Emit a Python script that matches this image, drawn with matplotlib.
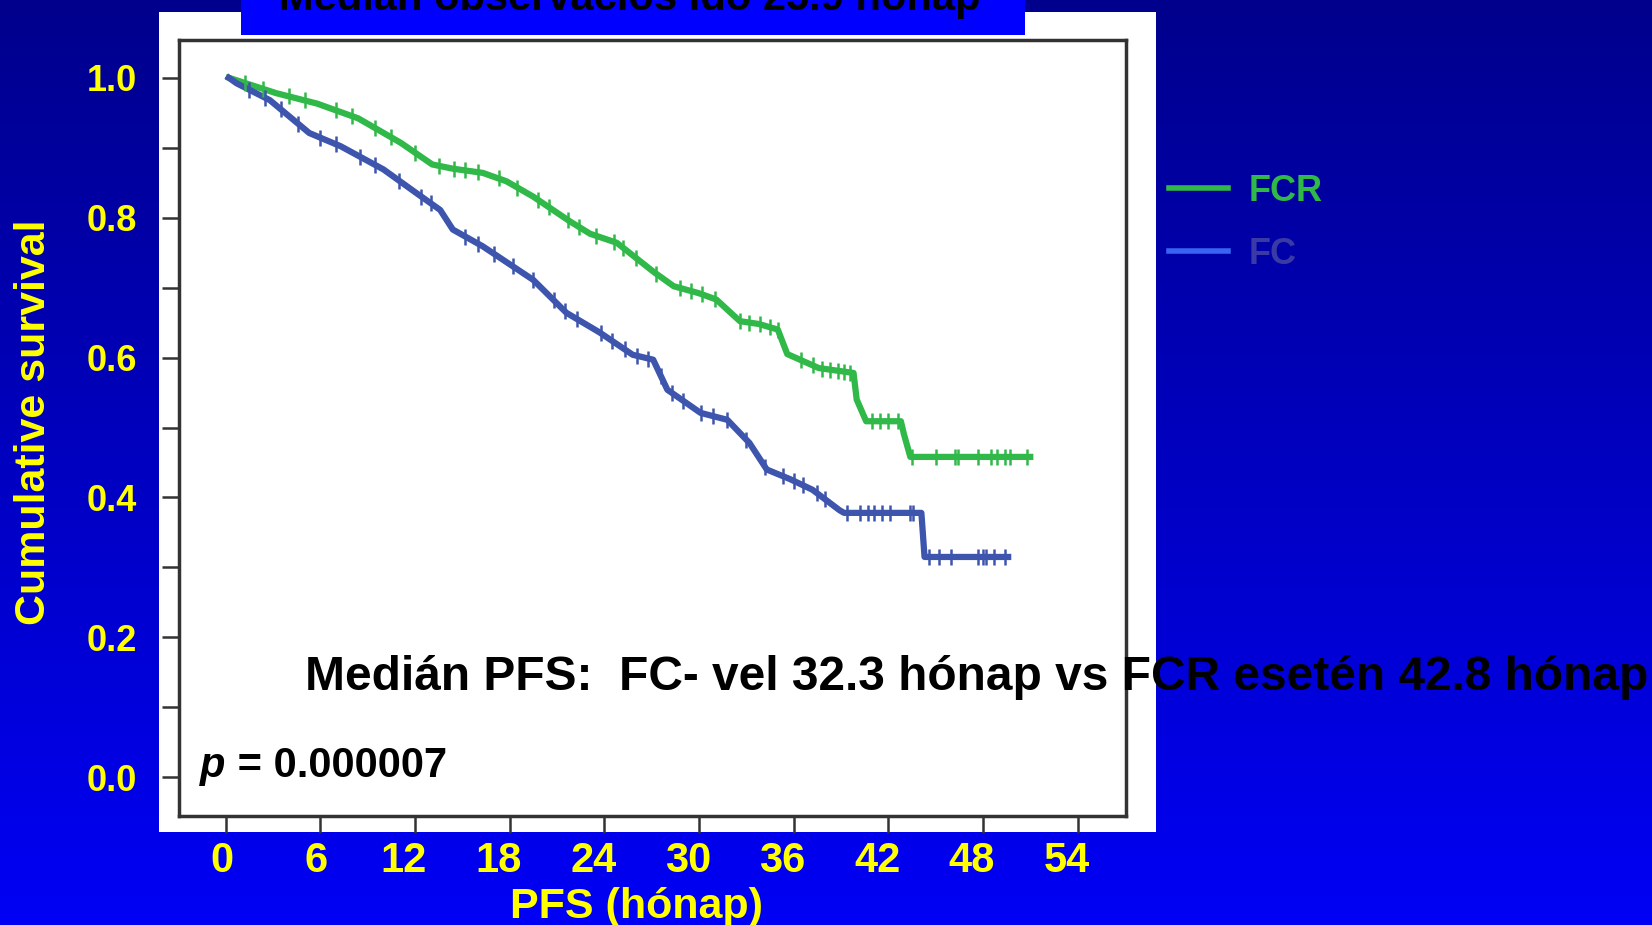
import numpy as np
import matplotlib
matplotlib.use('Agg')
import matplotlib.pyplot as plt
from matplotlib.patches import Rectangle
from matplotlib.lines import Line2D
from matplotlib.colors import LinearSegmentedColormap
from matplotlib.transforms import ScaledTranslation

plt.rcParams['font.family'] = ['Liberation Sans', 'DejaVu Sans']

# Kaplan-Meier curves (months, survival)
fcr_t = [0.2, 3.2, 5.8, 8.4, 11.1, 13.1, 14.4, 16.3, 17.8, 19.5, 21.8, 23.1, 24.8,
         27.1, 28.4, 30.0, 31.1, 32.6, 33.8, 35.0, 35.6, 37.6, 39.8, 40.0, 40.6, 42.8,
         43.0, 43.4, 51.0]
fcr_s = [1.0, 0.978, 0.963, 0.942, 0.907, 0.876, 0.870, 0.864, 0.852, 0.830, 0.795,
         0.777, 0.764, 0.723, 0.702, 0.692, 0.683, 0.652, 0.648, 0.640, 0.605, 0.585, 0.578,
         0.540, 0.509, 0.509, 0.490, 0.458, 0.458]
fc_t = [0.2, 0.7, 2.8, 5.3, 7.3, 10.0, 12.1, 13.6, 14.4, 16.3, 19.5, 21.6, 23.7, 25.8, 27.1,
        28.0, 30.1, 31.8, 33.2, 34.3, 35.8, 37.2, 38.9, 39.2, 44.1, 44.3, 49.6]
fc_s = [1.0, 0.992, 0.968, 0.921, 0.902, 0.869, 0.835, 0.811, 0.783, 0.759, 0.711, 0.664,
        0.636, 0.604, 0.597, 0.554, 0.521, 0.511, 0.478, 0.440, 0.426, 0.411, 0.382, 0.378,
        0.378, 0.315, 0.315]

# censored observations (months)
fcr_cens = [1.2, 2.4, 4.0, 5.0, 7.0, 8.0, 9.5, 10.5, 12.0, 13.5, 14.5, 15.2, 16.0, 17.3,
            18.5, 19.8, 20.5, 21.7, 22.4, 23.5, 24.6, 25.2, 26.0, 27.3, 28.8, 29.5, 30.2,
            31.0, 32.6, 33.2, 33.9, 34.5, 35.0, 36.5, 37.2, 37.8, 38.3, 38.8, 39.2, 39.6,
            41.0, 41.5, 42.0, 42.6, 43.5, 45.0, 46.2, 46.4, 47.7, 48.5, 48.9, 49.4, 49.7, 50.8]
fc_cens = [1.5, 2.5, 3.5, 4.6, 6.0, 7.0, 8.5, 9.5, 11.0, 12.4, 13.0, 15.2, 16.0, 17.0,
           18.2, 19.5, 20.8, 21.5, 22.3, 23.8, 24.5, 25.3, 26.1, 26.8, 27.6, 28.3, 29.0,
           30.1, 30.9, 31.8, 33.0, 34.2, 35.3, 36.0, 36.6, 37.5, 38.0, 39.4, 40.2, 40.7,
           41.1, 41.6, 42.1, 43.4, 43.6, 44.6, 45.2, 46.0, 47.7, 48.0, 48.2, 48.7, 49.4]

xticks = list(range(0, 55, 6))
yticks = [0.0, 0.2, 0.4, 0.6, 0.8, 1.0]

green = '#30b848'
blue = '#3d55ad'
yellow = '#ffff00'

fig = plt.figure(figsize=(16.52, 9.25), dpi=100)

# slide background
bg = fig.add_axes([0, 0, 1, 1], zorder=-10)
grad = np.linspace(0, 1, 256).reshape(-1, 1)
cmap = LinearSegmentedColormap.from_list('bg', ['#00008c', '#0000f5'])
bg.imshow(grad, aspect='auto', cmap=cmap, extent=[0, 1, 0, 1], origin='upper')
bg.axis('off')

fig.patches.append(Rectangle((0.0963, 0.1005), 0.6035, 0.886, transform=fig.transFigure,
                             facecolor='white', edgecolor='none', zorder=-5))
fig.patches.append(Rectangle((0.1459, 0.9622), 0.4746, 0.05, transform=fig.transFigure,
                             facecolor='#0000ff', edgecolor='none', zorder=-4))
fig.text(0.381, 1 - 10 / 925, 'Medián observációs idő 25.9 hónap', ha='center', va='baseline',
         fontsize=30, fontweight='bold', color='black')

ax = fig.add_axes([0.1084, 0.1173, 0.5732, 0.8395])
ax.plot(fcr_t, fcr_s, color=green, lw=4.5)
ax.plot(fc_t, fc_s, color=blue, lw=4.5)
ax.plot(fcr_cens, np.interp(fcr_cens, fcr_t, fcr_s), ls='none', marker='|', ms=11, mew=1.8, color=green)
ax.plot(fc_cens, np.interp(fc_cens, fc_t, fc_s), ls='none', marker='|', ms=11, mew=1.8, color=blue)

ax.set_xlim(-2.95, 57.07)
ax.set_ylim(-0.056, 1.054)
ax.set_xticks(xticks, labels=[str(v) for v in xticks], fontsize=30, fontweight='bold', color=yellow)
ax.set_yticks(yticks, labels=['%.1f' % v for v in yticks], fontsize=26, fontweight='bold',
              color=yellow)
ax.set_yticks([0.1, 0.3, 0.5, 0.7, 0.9], minor=True)
ax.tick_params(axis='both', which='both', direction='out', length=12, width=1.8, color='#333333')
ax.tick_params(axis='y', pad=18)
ax.tick_params(axis='x', pad=6)
# the slide's tick labels sit a little left of their ticks
for lbl in ax.get_xticklabels():
    dx = -11 if len(lbl.get_text()) > 1 else -4
    lbl.set_transform(lbl.get_transform() + ScaledTranslation(dx / 100, 0, fig.dpi_scale_trans))
for s in ax.spines.values():
    s.set_color('#333333')
    s.set_linewidth(2.5)

ax.set_ylabel('Cumulative survival', fontsize=31, fontweight='bold', color=yellow, va='center')
ax.yaxis.set_label_coords(-0.1536, 0.508)
ax.set_xlabel('PFS (hónap)', fontsize=31, fontweight='bold', color=yellow, va='center')
ax.xaxis.set_label_coords(0.4826, -0.1168)

fig.text(200 / 1652, 1 - 766 / 925, 'p', fontsize=30, fontweight='bold', style='italic', va='center')
fig.text(226 / 1652, 1 - 766 / 925, ' = 0.000007', fontsize=30, fontweight='bold', va='center')
fig.text(305 / 1652, 1 - 678 / 925, 'Medián PFS:  FC- vel 32.3 hónap vs FCR esetén 42.8 hónap',
         fontsize=34.5, fontweight='bold', color='black', va='center', zorder=10)

handles = [Line2D([], [], color=green, lw=4), Line2D([], [], color='#3a64f0', lw=4)]
leg = fig.legend(handles, ['FCR', 'FC'], loc='upper left', bbox_to_anchor=(1169 / 1652, 1 - 174 / 925),
                 frameon=False, prop={'weight': 'bold', 'size': 26}, handlelength=1.62,
                 handletextpad=0.58, labelspacing=0.77, borderpad=0, borderaxespad=0)
leg.get_texts()[0].set_color(green)
leg.get_texts()[1].set_color('#3a3aa6')

fig.savefig('out.png', dpi=100)
